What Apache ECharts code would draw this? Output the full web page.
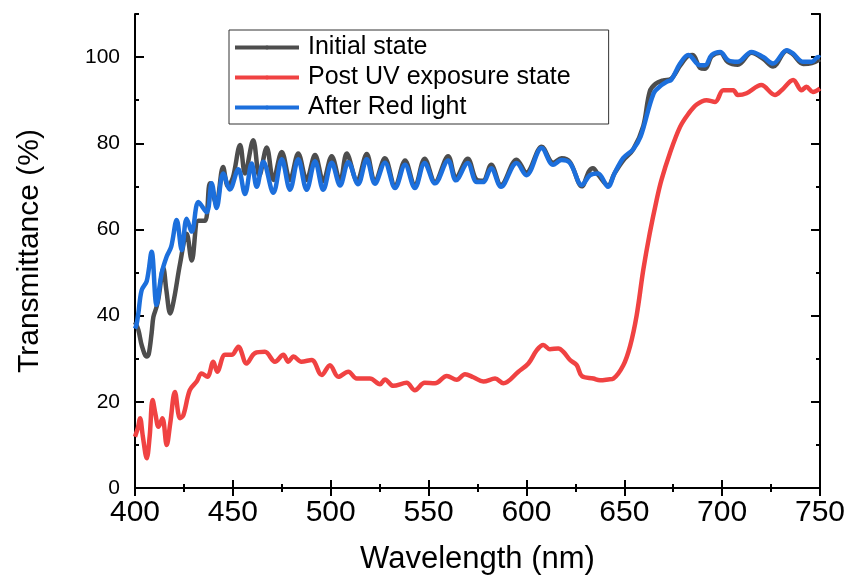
<!DOCTYPE html>
<html>
<head>
<meta charset="utf-8">
<script src="https://cdn.jsdelivr.net/npm/echarts@6/dist/echarts.min.js"></script>
<style>
  html, body { margin: 0; padding: 0; background: #fff; }
  #chart { width: 853px; height: 579px; }
</style>
</head>
<body>
<div id="chart"></div>
<script>
  var initialWl = [400, 401.7, 403.5, 406, 407, 408.5, 409.4, 411, 412, 414.5, 416, 418, 420, 423, 426.4, 429, 432.4, 435.8, 438.3, 441.5, 445, 447.5, 450, 453.7, 456.2, 460.4, 463.5, 467.3, 470.7, 475, 479.2, 483.4, 487.7, 492, 496.2, 500.5, 504.8, 508.2, 513.5, 518.4, 522.6, 527.7, 532.9, 538, 543, 548, 553.3, 560, 564, 570, 574.6, 577.8, 582, 587, 595, 600, 607.8, 613.6, 618, 622.3, 628.3, 632, 634, 637, 641.7, 645, 649.4, 654.5, 659.7, 663, 666, 670, 674, 678.5, 682.7, 685, 688.7, 691.3, 694.7, 699, 703, 708, 715, 721, 726, 733, 736, 741.5, 745.8, 750];
  var initialT = [38.5, 36.7, 33, 30.5, 31, 36, 39.7, 42, 44, 51, 46, 40.5, 44, 52, 59, 52.8, 62, 62, 70.7, 66, 74.5, 70, 72, 79.6, 73, 80.7, 72.5, 79, 71.5, 78, 71.5, 77.6, 71.5, 77.3, 71.2, 77, 71.2, 77.6, 71.2, 77.5, 71, 76.5, 70, 76, 70, 76.4, 71, 77, 72, 76.4, 71.5, 71.3, 75, 70.3, 76.2, 73.2, 79.2, 75.5, 76.5, 75.6, 70, 73.5, 74.2, 72.5, 70.2, 73, 76, 78.5, 84, 92, 93.8, 94.6, 95, 98, 100.3, 100.5, 97.5, 97.3, 100.2, 101, 98.8, 98.2, 101, 99.6, 97.8, 101.5, 100.7, 98.4, 98.6, 99.5];

  var postUvWl = [400, 401.5, 402.6, 404, 406, 407.5, 409, 410.5, 412, 414, 416.2, 418, 420.4, 423, 424.7, 428, 431.5, 434, 437, 440, 442, 446, 449.4, 452.8, 457, 461.3, 466.4, 471.5, 475.8, 478.3, 481, 485, 490.3, 495.4, 499.6, 503.9, 509, 513.3, 520, 525.2, 527.7, 532, 538.8, 543, 548, 553.3, 559.3, 564.4, 568.6, 572.9, 578, 584, 588.2, 595.9, 601, 605.3, 608.6, 612, 616.3, 618.9, 622.3, 625.7, 628.3, 634.2, 637.6, 641.8, 644.4, 649.5, 653, 656.3, 659.7, 663, 666.5, 669, 673.3, 678.5, 682.7, 687, 692, 696.4, 700.6, 705.7, 708, 712.5, 720, 727, 730.4, 736.3, 740.6, 743, 746.4, 750];
  var postUvT = [11.9, 14, 16.2, 12, 6.9, 12, 20.4, 17, 14.2, 16.2, 10, 15, 22.3, 16.2, 16.9, 22.7, 24.7, 26.6, 25.8, 29.3, 27, 30.9, 30.9, 32.8, 28.9, 31.3, 31.6, 29.3, 30.9, 29.3, 30.5, 29.3, 29.7, 26.2, 28.5, 25.8, 27, 25.4, 25.4, 24.1, 25.2, 23.7, 24.4, 22.7, 24.4, 24.3, 26, 25.1, 26.4, 25.7, 24.7, 25.4, 24.3, 27, 28.9, 32, 33.2, 32.2, 32.4, 31.6, 29.7, 28.5, 26, 25.4, 25, 25.2, 25.4, 28.5, 33, 40, 50.6, 59.1, 66.8, 71.5, 77.7, 83.8, 86.8, 89, 90, 89.6, 92.3, 92.3, 91.2, 91.6, 93.5, 91.2, 92.3, 94.7, 92.3, 93.1, 91.9, 92.7];

  var redLightWl = [400, 400.8, 401.7, 403.4, 406, 408.5, 411, 413.6, 416.2, 418.5, 421.3, 423.9, 426.4, 429, 432.4, 436.6, 439.2, 441.7, 445.1, 448.5, 452.8, 456.2, 459.6, 462.2, 465.6, 470.7, 475, 479.2, 483.4, 487.7, 492, 496.2, 500.5, 504.8, 509, 514, 518.4, 522.6, 527.7, 532.9, 538, 543, 548, 553.3, 560, 564, 570, 574.6, 577.8, 582, 587, 595, 600, 607.8, 613.6, 618, 622.3, 628.3, 632.5, 636.6, 641.7, 645, 649.5, 654.5, 658.3, 665, 669, 671.7, 674, 678.5, 682.7, 688.7, 691.3, 694.7, 699, 703, 708, 715, 721, 726, 733, 736, 741.5, 745.8, 749, 750];
  var redLightT = [37, 38, 40.5, 45.9, 48, 54.8, 42.5, 49.8, 53.7, 56, 62.2, 55.2, 62.5, 59.5, 66.4, 64, 70.7, 65, 73, 69.3, 74, 68.2, 75.3, 69.9, 75.7, 68.5, 76.3, 69.2, 76.3, 69.2, 75.8, 69.2, 75.5, 70.2, 75.6, 70.5, 76.3, 70.6, 75.5, 69.6, 75, 69.6, 75.4, 70.7, 76, 71.4, 75.4, 71, 71, 74.2, 69.9, 75.4, 72.6, 78.9, 75, 76.1, 75.4, 70.3, 72.6, 73, 69.9, 73, 76.6, 78.6, 81.5, 91.6, 93.5, 94.3, 94.7, 98.5, 100.5, 98.1, 98.1, 100.5, 101.2, 99.3, 98.9, 101.2, 100, 98.5, 101.6, 100.9, 98.9, 98.9, 100, 99.8];

  var seriesNames = ['Initial state', 'Post UV exposure state', 'After Red light'];
  var seriesColors = ['#4d4d4d', '#f04242', '#1c6fdc'];

  function pairs(xs, ys) {
    return xs.map(function (x, i) { return [x, ys[i]]; });
  }

  var font = '"Liberation Sans", Arial, sans-serif';
  var gridBox = { left: 135, right: 33, top: 14, bottom: 91, outerBoundsMode: 'none', containLabel: false };

  function tickAxis(extra) {
    var base = {
      type: 'value',
      splitLine: { show: false },
      axisLine: { show: false },
      axisLabel: { show: false },
      axisTick: { show: true, inside: true, length: 4, lineStyle: { color: '#000', width: 2 } }
    };
    return Object.assign(base, extra);
  }

  var chart = echarts.init(document.getElementById('chart'));
  chart.setOption({
    animation: false,
    backgroundColor: '#fff',
    grid: [
      Object.assign({}, gridBox),
      Object.assign({}, gridBox)
    ],
    legend: {
      data: seriesNames,
      orient: 'vertical',
      left: 229,
      top: 30,
      itemWidth: 64,
      itemHeight: 5,
      itemGap: 5,
      padding: [5, 38, 4, 4],
      borderColor: '#333',
      borderWidth: 1,
      lineStyle: { width: 4 },
      textStyle: { fontSize: 25, color: '#000', fontFamily: font, padding: [0, 0, 0, 4] }
    },
    xAxis: [
      tickAxis({
        gridIndex: 0, min: 400, max: 750, interval: 50, position: 'bottom',
        axisLine: { show: true, lineStyle: { color: '#000', width: 2 } },
        axisTick: { show: true, inside: true, length: 8, lineStyle: { color: '#000', width: 2 } },
        axisLabel: { show: true, fontSize: 30, color: '#000', fontFamily: font, margin: 10 },
        name: 'Wavelength (nm)', nameLocation: 'middle', nameGap: 56,
        nameTextStyle: { fontSize: 31, color: '#000', fontFamily: font }
      }),
      tickAxis({
        gridIndex: 0, min: 400, max: 750, interval: 50, position: 'top',
        axisLine: { show: true, lineStyle: { color: '#000', width: 2 } },
        axisTick: { show: true, inside: true, length: 8, lineStyle: { color: '#000', width: 2 } }
      }),
      tickAxis({ gridIndex: 1, min: 400, max: 750, interval: 25, position: 'bottom' }),
      tickAxis({ gridIndex: 1, min: 400, max: 750, interval: 25, position: 'top' })
    ],
    yAxis: [
      tickAxis({
        gridIndex: 0, min: 0, max: 110, interval: 20, position: 'left',
        axisLine: { show: true, lineStyle: { color: '#000', width: 2 } },
        axisTick: { show: true, inside: true, length: 9, lineStyle: { color: '#000', width: 2 } },
        axisLabel: { show: true, fontSize: 21, color: '#000', fontFamily: font, margin: 15, showMaxLabel: false },
        name: 'Transmittance (%)', nameLocation: 'middle', nameGap: 90,
        nameTextStyle: { fontSize: 30, color: '#000', fontFamily: font }
      }),
      tickAxis({
        gridIndex: 0, min: 0, max: 110, interval: 20, position: 'right',
        axisLine: { show: true, lineStyle: { color: '#000', width: 2 } },
        axisTick: { show: true, inside: true, length: 9, lineStyle: { color: '#000', width: 2 } }
      }),
      tickAxis({ gridIndex: 1, min: 0, max: 110, interval: 10, position: 'left' }),
      tickAxis({ gridIndex: 1, min: 0, max: 110, interval: 10, position: 'right' })
    ],
    series: [
      {
        name: seriesNames[0], type: 'line', xAxisIndex: 0, yAxisIndex: 0,
        data: pairs(initialWl, initialT),
        symbol: 'circle', showSymbol: false, smooth: 0.35,
        itemStyle: { color: seriesColors[0] },
        lineStyle: { color: seriesColors[0], width: 4.5 }
      },
      {
        name: seriesNames[1], type: 'line', xAxisIndex: 0, yAxisIndex: 0,
        data: pairs(postUvWl, postUvT),
        symbol: 'circle', showSymbol: false, smooth: 0.35,
        itemStyle: { color: seriesColors[1] },
        lineStyle: { color: seriesColors[1], width: 4.5 }
      },
      {
        name: seriesNames[2], type: 'line', xAxisIndex: 0, yAxisIndex: 0,
        data: pairs(redLightWl, redLightT),
        symbol: 'circle', showSymbol: false, smooth: 0.35,
        itemStyle: { color: seriesColors[2] },
        lineStyle: { color: seriesColors[2], width: 4.5 }
      }
    ]
  });
</script>
</body>
</html>
